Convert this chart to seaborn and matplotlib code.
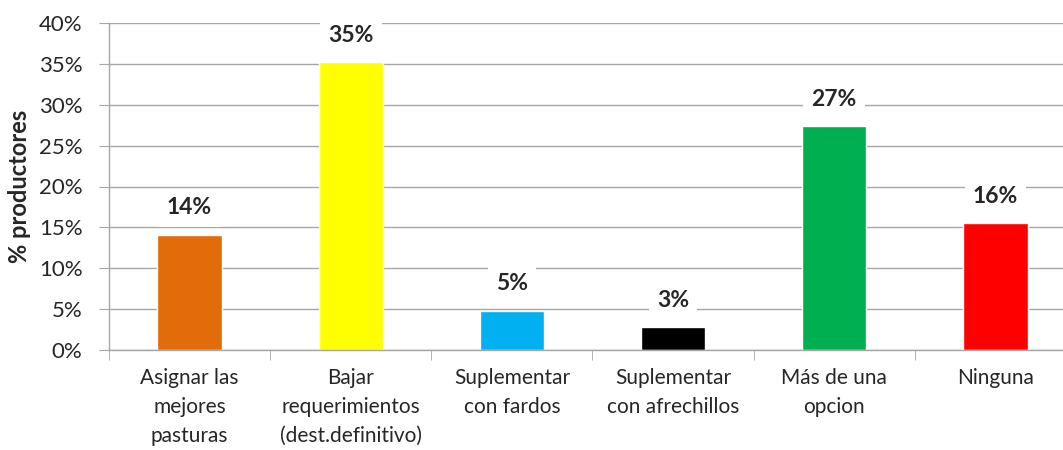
import matplotlib
matplotlib.use('Agg')
import matplotlib.pyplot as plt
import numpy as np
import pandas as pd
import seaborn as sns
from matplotlib.ticker import PercentFormatter

categories = ['Asignar las\nmejores\npasturas',
              'Bajar\nrequerimientos\n(dest.definitivo)',
              'Suplementar\ncon fardos',
              'Suplementar\ncon afrechillos',
              'Más de una\nopcion',
              'Ninguna']
values = [0.141, 0.352, 0.048, 0.028, 0.274, 0.155]
bar_colors = ['#E36C0A', '#FFFF00', '#00B0F0', '#000000', '#00B050', '#FF0000']

df = pd.DataFrame({'categoria': categories, 'valor': values})

sns.set_style('white')
plt.rcParams['font.family'] = ['Lato', 'DejaVu Sans']

fig = plt.figure(figsize=(10.63, 4.5), dpi=100)
ax = fig.add_axes([109 / 1063, 100 / 450, 967 / 1063, 327 / 450])

sns.barplot(data=df, x='categoria', y='valor', hue='categoria',
            palette=bar_colors, legend=False, width=0.4, saturation=1, ax=ax)

ax.set_xlim(-0.5, 5.5)
ax.set_ylim(0, 0.40)
ax.set_yticks(np.arange(0, 0.41, 0.05))
ax.yaxis.set_major_formatter(PercentFormatter(1.0, decimals=0))
ax.grid(axis='y', color='#A6A6A6', linewidth=1)
ax.set_axisbelow(True)

for side in ['top', 'right']:
    ax.spines[side].set_visible(False)
for side in ['left', 'bottom']:
    ax.spines[side].set_color('#A6A6A6')
    ax.spines[side].set_linewidth(1)

ax.tick_params(axis='y', direction='out', length=7, color='#A6A6A6',
               labelsize=16, pad=12, left=True)
ax.tick_params(axis='x', which='major', length=0, labelsize=15, pad=13)
for lbl in ax.get_xticklabels():
    lbl.set_linespacing(1.55)
ax.set_xticks(np.arange(-0.5, 6, 1), minor=True)
ax.tick_params(axis='x', which='minor', direction='out', length=7,
               color='#A6A6A6', bottom=True)

ax.set_xlabel('')
ax.set_ylabel('% productores', fontsize=17, fontweight='bold', labelpad=6)

for i, v in enumerate(values):
    ax.text(i, v + 0.033, f'{round(v * 100):.0f}%', ha='center', va='center',
            fontsize=16.5, fontweight='bold',
            bbox=dict(facecolor='white', edgecolor='none', pad=6))

fig.savefig('out.png', dpi=100)
